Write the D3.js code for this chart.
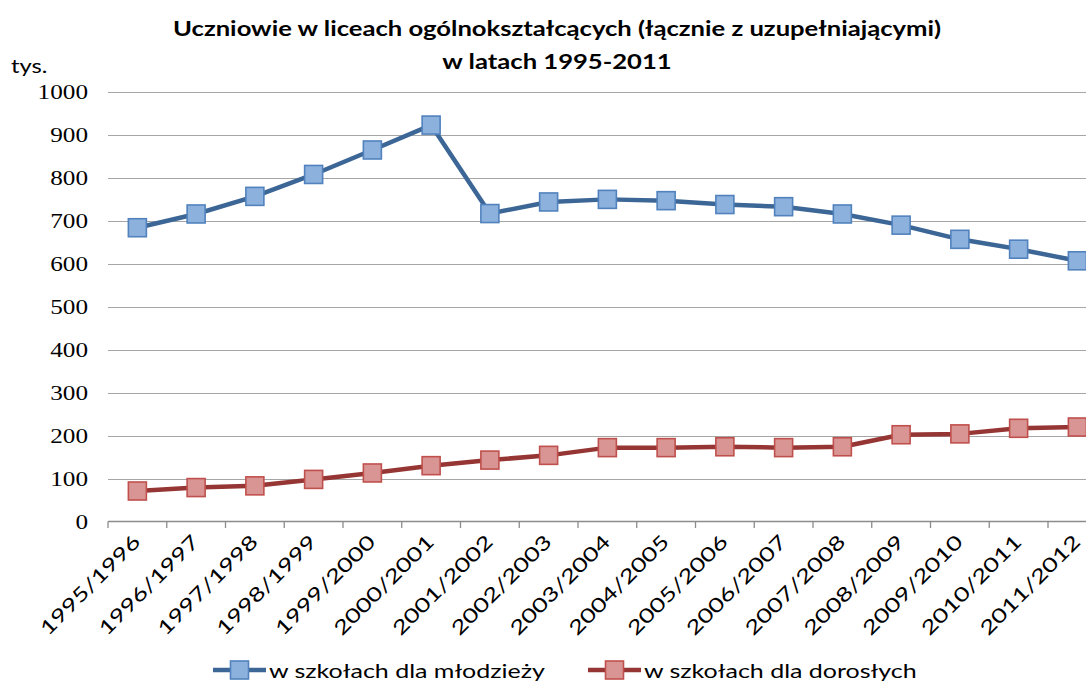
<!DOCTYPE html>
<meta charset="utf-8">
<body style="margin:0;background:#fff">
<svg id="chart" width="1086" height="681"></svg>
<script src="https://cdn.jsdelivr.net/npm/d3@7"></script>
<style>
  body { font-family: Lato, "Open Sans", sans-serif; }
  .grid line { stroke: #a6a6a6; stroke-width: 1.2px; }
  .ylab text { font-family: "Liberation Serif", serif; font-size: 20px; fill: #000; }
  .xlab text { font-family: Lato, sans-serif; font-size: 19.5px; fill: #000; }
</style>
<script>
// categories (school years)
var years = ["1995/1996", "1996/1997", "1997/1998", "1998/1999", "1999/2000",
  "2000/2001", "2001/2002", "2002/2003", "2003/2004", "2004/2005", "2005/2006",
  "2006/2007", "2007/2008", "2008/2009", "2009/2010", "2010/2011", "2011/2012"]

// students in thousands
var mlodziez = [684, 716, 757, 808, 865, 923, 717, 744, 750, 747, 738, 733, 716, 690, 657, 634, 607]
var dorosli  = [71, 79, 83, 98, 113, 130, 143, 154, 172, 172, 174, 172, 174, 202, 204, 217, 220]

var yTicks = [0, 100, 200, 300, 400, 500, 600, 700, 800, 900, 1000]

var series = [
  { name: "w szkołach dla młodzieży", values: mlodziez, line: "#3c6696", fill: "#8db1dd", stroke: "#5182bd" },
  { name: "w szkołach dla dorosłych", values: dorosli, line: "#963634", fill: "#d99593", stroke: "#c0504d" }
]

// the source picture is stretched sideways, text gets the same treatment
var stretch = 1.25

var svg = d3.select('#chart')

// the plot runs a bit past the right edge, like in the original picture
var x = d3.scaleBand().domain(years).range([108, 108 + 17 * 58.75])
var y = d3.scaleLinear().domain([0, 1000]).range([521.5, 92])

// gridlines
svg.append('g').attr('class', 'grid')
  .selectAll('line')
  .data(yTicks.filter(function (d) { return d > 0 }))
  .enter().append('line')
  .attr('x1', x.range()[0]).attr('x2', x.range()[1])
  .attr('y1', function (d) { return Math.round(y(d)) + 0.5 })
  .attr('y2', function (d) { return Math.round(y(d)) + 0.5 })

// y labels
var yAxis = svg.append('g').attr('class', 'ylab')
  .attr('transform', 'translate(88,0)')
  .call(d3.axisLeft(y).tickValues(yTicks).tickFormat(d3.format('d')).tickSize(0).tickPadding(0))
yAxis.select('.domain').remove()
yAxis.selectAll('text')
  .attr('dy', '0.34em')
  .attr('textLength', function (d) { return String(d).length * 12.6 })
  .attr('lengthAdjust', 'spacingAndGlyphs')

// x axis line and boundary ticks
var xg = svg.append('g')
xg.append('line')
  .attr('x1', x.range()[0]).attr('x2', x.range()[1])
  .attr('y1', 521.5).attr('y2', 521.5)
  .attr('stroke', '#8c8c8c').attr('stroke-width', 1.3)
xg.selectAll('.tick')
  .data(years)
  .enter().append('line')
  .attr('x1', function (d) { return x(d) }).attr('x2', function (d) { return x(d) })
  .attr('y1', 521.5).attr('y2', 528)
  .attr('stroke', '#8c8c8c').attr('stroke-width', 1.3)

// x labels
svg.append('g').attr('class', 'xlab')
  .selectAll('text')
  .data(years)
  .enter().append('text')
  .attr('text-anchor', 'end')
  .attr('dy', '0.3em')
  .attr('transform', function (d) {
    return 'translate(' + (x(d) + x.bandwidth() / 2) + ',539) rotate(-45) scale(1.33,1)'
  })
  .text(function (d) { return d })

// lines and markers
var line = d3.line()
  .x(function (d, i) { return x(years[i]) + x.bandwidth() / 2 })
  .y(function (d) { return y(d) })

var ms = 18
series.forEach(function (s) {
  svg.append('path')
    .attr('d', line(s.values))
    .attr('fill', 'none')
    .attr('stroke', s.line)
    .attr('stroke-width', 4.5)
    .attr('stroke-linejoin', 'round')
  svg.append('g').selectAll('rect')
    .data(s.values)
    .enter().append('rect')
    .attr('x', function (d, i) { return x(years[i]) + x.bandwidth() / 2 - ms / 2 })
    .attr('y', function (d) { return y(d) - ms / 2 })
    .attr('width', ms).attr('height', ms)
    .attr('fill', s.fill)
    .attr('stroke', s.stroke)
    .attr('stroke-width', 1.6)
})

// stretched text helper
function stext(px, py, size, weight, anchor, str) {
  return svg.append('text')
    .attr('transform', 'translate(' + px + ',' + py + ') scale(' + stretch + ',1)')
    .attr('text-anchor', anchor)
    .attr('font-family', 'Lato, sans-serif')
    .attr('font-weight', weight).attr('font-size', size)
    .text(str)
}

// title
stext(557, 36, 20.5, 'bold', 'middle', 'Uczniowie w liceach ogólnokształcących (łącznie z uzupełniającymi)')
stext(557, 69, 20.5, 'bold', 'middle', 'w latach 1995-2011')
stext(11, 73, 19, 'normal', 'start', 'tys.')

// legend
var legX = [213, 588]
series.forEach(function (s, i) {
  var g = svg.append('g').attr('transform', 'translate(' + legX[i] + ',670)')
  g.append('line').attr('x1', 0).attr('x2', 53).attr('y1', 0).attr('y2', 0)
    .attr('stroke', s.line).attr('stroke-width', 4.5)
  g.append('rect').attr('x', 26.5 - ms / 2).attr('y', -ms / 2)
    .attr('width', ms).attr('height', ms)
    .attr('fill', s.fill).attr('stroke', s.stroke).attr('stroke-width', 1.6)
  stext(legX[i] + 56, 678, 20, 'normal', 'start', s.name)
})
</script>
